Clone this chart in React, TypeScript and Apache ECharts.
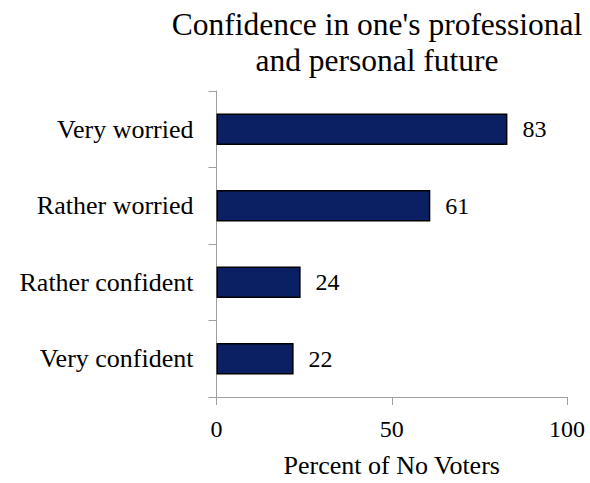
import React, { useEffect, useRef } from "react";
import * as echarts from "echarts";

const categories = ["Very worried", "Rather worried", "Rather confident", "Very confident"];
const values = [83, 61, 24, 22];
const xTicks = [0, 50, 100];
const titleLines = ["Confidence in one's professional", "and personal future"];
const xAxisName = "Percent of No Voters";

const FONT = "Liberation Serif";
const AXIS_GRAY = "#a0a0a0";

export default function App() {
  const ref = useRef<HTMLDivElement>(null);
  useEffect(() => {
    if (!ref.current) return;
    const chart = echarts.init(ref.current, null, { renderer: "svg" });
    chart.setOption({
      animation: false,
      backgroundColor: "#ffffff",
      textStyle: { fontFamily: FONT },
      title: {
        text: titleLines.join("\n"),
        left: 372,
        top: 1,
        textAlign: "center",
        textStyle: {
          fontFamily: FONT,
          fontSize: 31.5,
          fontWeight: "normal",
          color: "#000",
          lineHeight: 36,
        },
      },
      grid: { left: 216.5, right: 23, top: 91, bottom: 81, containLabel: false },
      xAxis: {
        type: "value",
        min: xTicks[0],
        max: xTicks[xTicks.length - 1],
        interval: xTicks[1] - xTicks[0],
        name: xAxisName,
        nameLocation: "middle",
        nameGap: 55,
        nameTextStyle: { fontFamily: FONT, fontSize: 26, color: "#000" },
        axisLine: { show: true, lineStyle: { color: AXIS_GRAY, width: 1 } },
        axisTick: { show: true, length: 8, lineStyle: { color: AXIS_GRAY } },
        axisLabel: { fontFamily: FONT, fontSize: 24, color: "#000", margin: 20 },
        splitLine: { show: false },
      },
      yAxis: {
        type: "category",
        data: categories,
        inverse: true,
        axisLine: { show: true, lineStyle: { color: AXIS_GRAY, width: 1 } },
        axisTick: { show: true, length: 8, alignWithLabel: false, lineStyle: { color: AXIS_GRAY } },
        axisLabel: { fontFamily: FONT, fontSize: 26, color: "#000", margin: 23 },
        splitLine: { show: false },
      },
      series: [
        {
          type: "bar",
          data: values,
          barWidth: "41%",
          itemStyle: { color: "#0b2062", borderColor: "#000", borderWidth: 1.5 },
          label: {
            show: true,
            position: "right",
            distance: 15,
            fontFamily: FONT,
            fontSize: 24,
            color: "#000",
          },
        },
      ],
    });
    return () => chart.dispose();
  }, []);
  return (
    <div
      ref={ref}
      style={{ position: "fixed", left: 0, top: 0, width: 590, height: 483 }}
    />
  );
}
